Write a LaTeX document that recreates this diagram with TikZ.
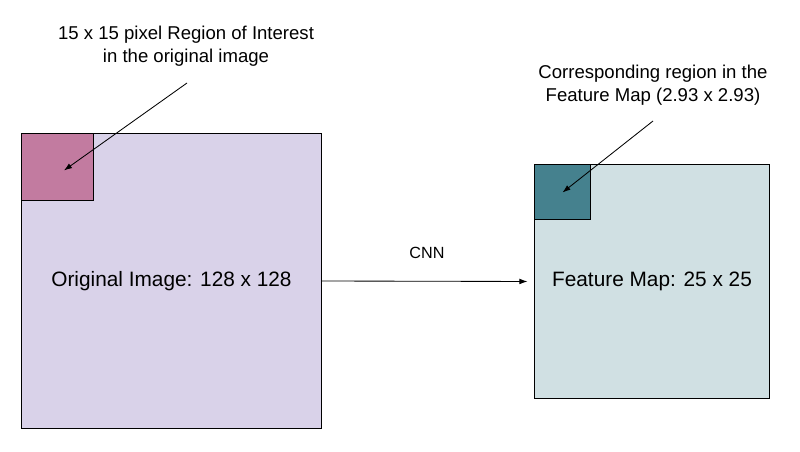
\documentclass[tikz,border=0pt]{standalone}
\usepackage{fontspec}
\setmainfont{Liberation Sans}
\usepackage{tikz}
\usetikzlibrary{arrows.meta}

\definecolor{lavender}{HTML}{D9D2E9}
\definecolor{roipink}{HTML}{C27BA0}
\definecolor{mapcyan}{HTML}{D0E0E3}
\definecolor{mapteal}{HTML}{45818E}

\begin{document}
\begin{tikzpicture}[x=0.025cm, y=-0.025cm, >={Latex[length=2mm, width=1.4mm]},
	imgbox/.style={draw, line width=0.7pt, inner sep=0pt, font=\fontsize{14.8}{17}\selectfont},
	patch/.style={draw, line width=0.7pt, inner sep=0pt, anchor=north west},
	lab/.style={align=center, inner sep=0pt, font=\fontsize{13.2}{16.3}\selectfont},
	pointer/.style={->, line width=0.6pt}]
	\useasboundingbox (0,0) rectangle (800,452);
	% the two pictures
	\node[imgbox, fill=lavender, minimum width=7.475cm, minimum height=7.35cm] (orig) at (171.5,281) {Original Image: 128 x 128};
	\node[imgbox, fill=mapcyan, minimum width=5.85cm, minimum height=5.825cm] (fmap) at (652,281.5) {Feature Map: 25 x 25};
	\node[patch, fill=roipink, minimum width=1.8cm, minimum height=1.675cm] (roi) at (orig.north west) {};
	\node[patch, fill=mapteal, minimum width=1.375cm, minimum height=1.375cm] (roimap) at (fmap.north west) {};
	% labels
	\node[lab] (roilab) at (186,46) {15 x 15 pixel Region of Interest\\in the original image};
	\node[lab] (maplab) at (653,85) {Corresponding region in the\\Feature Map (2.93 x 2.93)};
	\node[font=\fontsize{11.5}{14}\selectfont] (cnn) at (427,253) {CNN};
	\coordinate (roitail) at (187,83);
	\coordinate (maptail) at (653,121);
	% arrows
	\draw[pointer] (roitail) -- ([shift={(6,3)}]roi.center);
	\draw[pointer] (maptail) -- (roimap.center);
	\draw[pointer, shorten >=7*0.025cm] (orig.east) -- (fmap.west);
\end{tikzpicture}
\end{document}
